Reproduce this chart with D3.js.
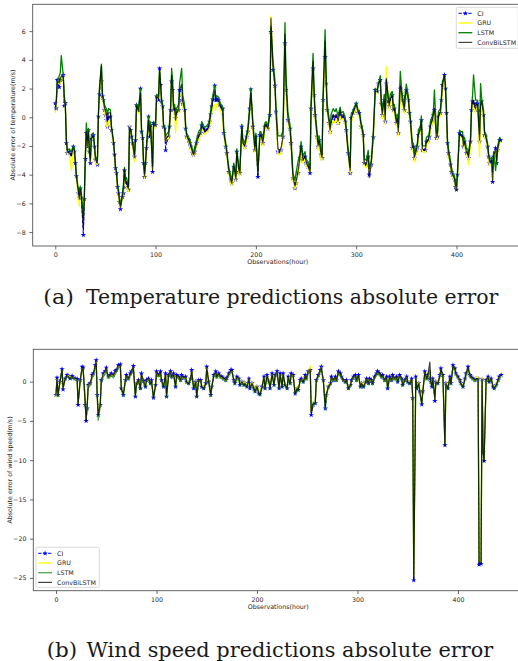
<!DOCTYPE html>
<html>
<head>
<meta charset="utf-8">
<script src="https://cdn.jsdelivr.net/npm/d3@7"></script>
<style>
body { margin: 0; background: #fff; }
svg { display: block; }
</style>
</head>
<body>
<svg id="fig" width="518" height="661"></svg>
<script>
// ---- (a) temperature absolute error ----
var tempHours = [
  0,1,2,3,4,5,6,8,9,10, 11,12,14,16,18,19,20,21,23,24, 25,26,28,29,30,31,32,33,34,35,
  36,38,39,40,42,43,44,46,47,48, 49,50,51,52,53,55,56,58,59,60, 61,62,63,64,65,67,68,69,70,71,
  73,74,75,76,77,79,80,81,83,85, 86,87,88,89,90,91,93,94,95,97, 98,99,100,101,103,104,105,106,107,108,
  109,110,111,113,114,115,116,117,118,119, 120,121,123,124,126,127,129,130,131,133, 134,135,137,138,139,141,143,145,146,148,
  149,151,153,154,155,156,157,159,160,161, 163,164,165,167,168,170,171,173,175,176, 178,180,181,183,184,186,187,189,191,192,
  194,195,197,199,200,202,204,205,207,209, 210,212,214,215,217,219,220,222,224,225, 227,229,230,232,234,235,237,239,240,242,
  244,245,247,249,250,252,254,255,257,258, 259,261,262,263,265,266,267,269,270,271, 273,274,275,277,279,280,282,284,285,287,
  289,290,292,294,295,297,298,300,302,303, 305,307,308,310,312,313,315,317,319,321, 322,324,325,326,328,329,330,332,333,334,
  336,337,338,340,341,342,344,345,346,348, 349,350,352,353,354,356,357,358,360,361, 362,364,365,366,368,369,370,372,373,374,
  376,377,378,380,381,382,384,385,386,388, 389,390,391,392,394,395,396,398,399,400, 401,403,404,406,407,408,410,411,412,414,
  415,416,417,419,420,421,423,424,425,427, 428,429,431,432,433,435,436,437,439,440, 441,443,444
];
var tempCI = [
  0.97,0.62,2.6,2.25,2.1,2.6,2.67,2.95,0.8,1.0, -1.8,-2.5,-2.4,-2.6,-2.05,-2.4,-3.2,-4.1,-5.3,-5.6, -4.95,-5.6,-8.2,-5.7,-2.9,-1.1,-2.05,-0.9,-2.4,-3.2,
  -1.5,-1.25,-2.05,-2.95,-3.3,0.05,1.6,2.5,1.45,1.2, 0.5,0.15,-0.2,-0.65,-0.05,0.05,-0.9,-1.8,-2.6,-3.55, -3.9,-4.85,-5.3,-5.9,-6.4,-5.55,-5.3,-3.7,-4.85,-4.6,
  -5.05,-0.65,-0.9,-1.35,-1.8,-2.75,-1.6,0.85,0.5,2.0, -1.0,-1.45,-3.2,-4.15,-3.2,-2.15,0.05,-1.35,-0.55,-3.8, -0.4,-0.55,-0.55,1.45,1.2,3.4,2.25,1.1,0.75,-0.65,
  -0.8,-2.3,-1.6,-1.35,-0.65,0.5,2.5,1.9,0.5,0.6, -0.05,0.3,0.5,1.9,1.2,0.95,0.5,-0.8,-1.35,-1.6, -1.8,-2.05,-2.5,-2.6,-2.4,-1.8,-1.35,-1.1,-0.55,-0.8,
  -1.0,-0.9,-0.65,-0.3,0.2,0.75,1.25,2.2,1.2,1.3, 1.2,0.85,0.75,0.6,-1.1,-2.05,-2.5,-3.8,-4.35,-4.6, -3.45,-4.35,-2.4,-3.8,-3.9,-0.65,-1.8,-2.05,-1.35,-1.0,
  0.6,1.95,-0.65,-2.3,-1.35,-4.15,-1.25,-1.25,-1.8,-0.65, -0.55,-0.8,0.15,5.95,3.3,2.2,0.4,-2.4,-2.4,-2.3, -1.35,5.15,1.9,-0.2,-0.8,-1.8,-4.25,-4.95,-4.6,-3.9,
  -2.85,-2.05,-3.0,-2.75,-3.2,-3.45,-3.9,0.6,3.4,1.55, 0.15,-1.35,-2.05,-1.6,-2.6,-2.85,1.2,4.2,2.35,0.5, -0.4,-1.0,-0.4,0.05,-0.2,0.05,-0.4,0.3,-0.05,0.05,
  -0.3,-0.9,-2.5,-3.9,-0.05,0.3,0.5,0.95,0.3,0.3, -0.65,-1.25,-3.2,-3.3,-2.75,-4.0,-3.3,-1.4,1.9,1.8, 2.35,2.6,0.95,0.15,1.2,-0.3,2.35,1.1,0.75,1.2,
  1.55,0.5,0.6,-0.4,-0.05,-1.1,2.0,1.65,1.2,0.5, 1.45,1.9,1.2,0.3,-0.3,-2.15,-2.05,-2.85,-2.3,-2.05, -1.25,-0.9,-0.2,-2.3,-2.3,-2.3,-1.7,-1.6,-1.35,-0.65,
  -0.2,0.15,0.5,-1.45,-1.35,0.05,0.3,1.2,2.25,2.95, 2.0,0.3,-1.8,-2.5,-3.3,-3.8,-4.0,-4.35,-4.85,-5.05, -4.0,-1.1,-1.25,-1.35,-2.05,-1.7,-2.5,-2.5,-2.85,-1.7,
  0.5,1.1,0.95,0.5,0.95,0.95,-1.7,0.5,1.1,0.15, -1.25,-1.35,-2.05,-2.75,-3.2,-3.0,-4.5,-2.75,-2.15,-3.2, -2.3,-1.6,-1.6
];
var tempGRU = [
  0.3,0.9,2.3,2.5,2.3,2.5,2.8,2.6,1.2,0.9, -1.5,-2.6,-2.5,-3.7,-2.2,-2.3,-3.0,-4.3,-5.6,-6.2, -5.2,-5.5,-6.5,-5.9,-3.0,-1.2,-2.0,-1.2,-2.5,-3.1,
  -1.6,-1.4,-2.2,-3.2,-3.3,0.0,1.7,3.0,1.3,1.0, 0.4,0.0,-0.6,-0.7,-0.3,-0.1,-1.0,-1.9,-2.7,-3.6, -4.1,-5.0,-5.5,-6.1,-6.3,-5.6,-5.0,-3.9,-4.8,-4.9,
  -5.2,-0.5,-1.0,-1.4,-2.0,-3.1,-1.7,0.6,0.3,1.5, -1.2,-1.6,-3.4,-4.2,-3.4,-2.3,-0.4,-1.2,-0.8,-3.6, -0.5,-0.7,-0.8,1.2,1.4,3.2,2.0,0.9,0.5,-0.9,
  -1.0,-1.7,-1.5,-1.5,-0.8,0.3,2.3,1.6,0.2,0.4, -1.1,0.1,0.4,1.6,1.5,0.8,0.3,-1.0,-1.5,-1.7, -2.0,-2.2,-2.6,-2.7,-2.5,-1.9,-1.5,-1.3,-0.8,-1.0,
  -1.2,-1.0,-0.9,-0.6,-0.2,0.3,0.7,0.9,0.5,0.9, 1.0,0.6,0.5,-0.4,-1.3,-2.2,-2.7,-3.9,-4.6,-4.8, -3.6,-4.5,-2.6,-3.9,-4.1,-1.0,-2.0,-2.2,-1.5,-1.2,
  0.4,1.4,-0.9,-2.4,-1.6,-3.6,-1.5,-1.4,-2.0,-0.8, -0.7,-0.9,0.3,7.05,3.6,2.3,0.3,-2.6,-2.6,-2.4, -1.6,5.0,2.0,-0.4,-1.0,-2.0,-4.4,-5.0,-4.7,-4.0,
  -3.0,-2.3,-3.2,-2.9,-3.3,-3.6,-3.8,0.3,3.0,1.4, -0.1,-1.6,-2.3,-1.8,-2.9,-3.0,0.9,4.0,2.6,0.4, -0.6,-1.2,-0.6,-0.2,-0.4,-0.1,-0.5,0.1,-0.2,-0.1,
  -0.5,-1.1,-2.7,-3.9,-0.4,0.1,0.3,0.7,0.1,0.1, -0.8,-1.5,-3.4,-3.5,-2.9,-3.8,-3.4,-1.6,1.5,2.0, 2.4,2.3,0.7,-0.1,1.0,-0.5,3.5,1.3,0.5,1.0,
  1.3,0.3,0.4,-0.6,-0.3,-1.3,1.6,2.0,0.9,0.3, 1.2,1.7,1.0,0.0,-0.6,-2.4,-2.2,-3.1,-2.5,-2.2, -1.5,-1.1,-0.4,-2.4,-2.4,-2.5,-1.9,-1.8,-1.5,-0.9,
  -0.4,-0.1,0.3,-1.5,-1.5,-0.2,0.1,0.9,2.0,2.7, 1.8,0.1,-2.0,-2.7,-3.4,-3.9,-4.1,-4.5,-4.9,-5.0, -4.2,-1.3,-1.4,-1.5,-2.2,-1.9,-2.6,-2.7,-3.3,-2.0,
  0.3,0.9,0.7,0.3,0.8,0.7,-2.8,0.2,0.8,-0.1, -1.4,-1.5,-2.2,-2.9,-3.4,-3.2,-4.3,-3.0,-2.3,-3.0, -2.5,-1.8,-1.7
];
var tempLSTM = [
  0.5,1.2,2.5,2.6,2.9,3.1,4.3,2.9,1.5,0.9, -1.4,-2.3,-2.2,-2.4,-2.0,-2.2,-3.0,-4.0,-5.0,-5.4, -4.8,-5.3,-7.0,-5.4,-2.5,-0.4,-1.6,-0.8,-2.2,-2.9,
  -1.2,-1.1,-1.8,-2.7,-3.0,0.3,2.0,3.7,1.7,1.3, 0.9,0.7,0.6,0.2,0.6,0.5,-0.6,-1.6,-2.4,-3.4, -3.7,-4.6,-5.0,-5.6,-6.1,-5.3,-4.6,-3.5,-4.4,-4.2,
  -4.8,-0.9,-0.8,-1.2,-1.6,-2.6,-1.4,0.9,0.6,2.0, -0.8,-1.2,-3.0,-3.9,-3.0,-1.9,0.1,-1.0,-0.3,-3.4, -0.3,-0.4,-0.4,1.6,1.5,3.3,2.4,1.3,0.9,-0.5,
  -0.6,-1.3,-1.2,-1.0,-0.3,0.8,3.4,2.6,0.8,0.9, 0.2,0.6,0.9,2.4,3.4,1.6,0.8,-0.5,-1.1,-1.4, -1.5,-1.8,-2.3,-2.4,-2.1,-1.5,-1.0,-0.8,-0.3,-0.6,
  -0.7,-0.6,-0.4,0.0,0.5,1.0,1.5,2.2,1.4,1.5, 1.4,1.1,0.9,0.7,-0.8,-1.8,-2.3,-3.5,-4.1,-4.4, -3.2,-4.1,-2.2,-3.5,-3.7,-0.5,-1.5,-1.8,-1.1,-0.7,
  0.9,2.0,-0.3,-2.0,-1.1,-3.8,-1.0,-1.0,-1.5,-0.4, -0.3,-0.6,0.6,6.3,4.0,2.6,0.8,-1.3,-1.3,-1.3, -1.0,6.6,3.0,0.3,-0.5,-1.4,-3.9,-4.4,-3.9,-3.1,
  -2.5,-1.7,-2.7,-2.4,-2.9,-3.1,-3.6,1.0,4.45,2.0, 0.5,-1.0,-1.7,-1.3,-2.3,-2.6,1.6,6.1,3.2,1.0, -0.1,-0.6,0.2,0.6,0.4,0.6,0.1,0.7,0.3,0.4,
  0.0,-0.6,-2.2,-3.5,0.2,0.5,0.7,1.0,0.5,0.5, -0.4,-1.0,-2.9,-3.0,-2.3,-3.6,-3.0,-1.1,2.0,1.9, 2.2,2.9,1.2,0.5,1.6,0.2,2.6,1.4,1.0,1.6,
  1.8,0.8,0.9,-0.1,0.2,-0.7,3.2,2.2,1.5,0.8, 1.8,2.3,1.5,0.6,0.0,-1.8,-1.8,-2.5,-2.0,-1.8, -0.9,-0.6,0.1,-2.0,-2.0,-2.0,-1.4,-1.3,-1.0,-0.3,
  0.1,0.5,1.9,-1.1,-1.0,0.4,0.6,1.5,2.5,2.9, 2.3,0.6,-1.5,-2.2,-3.0,-3.5,-3.8,-4.1,-4.6,-4.8, -3.7,-0.9,-1.0,-1.0,-1.7,-1.4,-2.2,-2.2,-2.5,-1.4,
  0.8,1.5,2.95,1.2,1.2,1.2,-1.2,2.35,1.4,0.5, -1.0,-1.1,-1.8,-2.5,-2.9,-2.8,-3.8,-2.4,-3.7,-2.9, -2.0,-1.4,-1.5
];
var tempConv = [
  0.7,1.0,2.4,2.5,2.4,2.6,2.9,2.8,1.1,0.9, -1.6,-2.4,-2.5,-2.7,-2.1,-2.3,-3.1,-4.1,-5.2,-5.7, -5.0,-5.6,-7.8,-5.6,-2.8,-1.0,-2.0,-1.0,-2.4,-3.1,
  -1.5,-1.3,-2.0,-2.9,-3.2,0.1,1.8,3.6,1.5,1.1, 0.7,0.4,0.3,-0.2,0.3,0.3,-0.7,-1.7,-2.5,-3.5, -3.9,-4.8,-5.3,-5.9,-6.3,-5.5,-4.9,-3.6,-4.6,-4.5,
  -5.0,-0.7,-0.9,-1.3,-1.8,-2.8,-1.6,0.8,0.4,1.7, -1.0,-1.4,-3.2,-4.1,-3.2,-2.1,-0.2,-1.3,-0.6,-3.7, -0.4,-0.6,-0.6,1.4,1.3,3.3,2.2,1.0,0.7,-0.7,
  -0.8,-1.8,-1.4,-1.3,-0.6,0.5,2.9,2.0,0.5,0.6, -0.2,0.3,0.5,1.9,2.3,1.1,0.5,-0.8,-1.3,-1.6, -1.8,-2.0,-2.5,-2.6,-2.4,-1.8,-1.3,-1.1,-0.6,-0.8,
  -1.0,-0.9,-0.7,-0.3,0.2,0.6,1.1,1.8,1.1,1.2, 1.1,0.8,0.7,0.4,-1.1,-2.0,-2.5,-3.8,-4.4,-4.6, -3.4,-4.3,-2.4,-3.7,-3.9,-0.7,-1.8,-2.0,-1.3,-1.0,
  0.6,1.7,-0.6,-2.3,-1.3,-4.0,-1.3,-1.2,-1.8,-0.6, -0.5,-0.8,0.2,6.9,3.5,2.2,0.4,-2.2,-2.3,-2.2, -1.4,5.8,2.3,-0.2,-0.8,-1.8,-4.2,-4.8,-4.5,-3.8,
  -2.8,-2.0,-3.0,-2.7,-3.1,-3.4,-3.8,0.6,3.9,1.7, 0.1,-1.3,-2.0,-1.6,-2.6,-2.8,1.2,5.3,2.6,0.6, -0.4,-0.9,-0.3,0.2,0.0,0.2,-0.2,0.5,0.1,0.2,
  -0.3,-0.9,-2.5,-3.7,-0.1,0.3,0.5,0.9,0.3,0.3, -0.6,-1.3,-3.2,-3.3,-2.7,-4.2,-3.3,-1.4,1.8,1.8, 2.3,2.6,0.9,0.2,1.2,-0.2,2.7,1.2,0.8,1.3,
  1.5,0.5,0.6,-0.4,-0.1,-1.0,2.2,1.8,1.2,0.5, 1.4,1.9,1.2,0.3,-0.3,-2.1,-2.0,-2.8,-2.3,-2.0, -1.2,-0.9,-0.2,-2.2,-2.3,-2.3,-1.7,-1.6,-1.3,-0.6,
  -0.2,0.2,0.6,-1.4,-1.3,0.1,0.3,1.2,2.2,2.9, 2.0,0.3,-1.8,-2.5,-3.3,-3.8,-4.0,-4.3,-4.8,-5.1, -4.0,-1.1,-1.2,-1.3,-2.0,-1.7,-2.5,-2.5,-2.8,-1.7,
  0.5,1.1,1.2,0.6,0.9,0.9,-1.6,0.9,1.1,0.2, -1.2,-1.3,-2.0,-2.7,-3.1,-3.0,-4.4,-2.7,-2.2,-3.1, -2.3,-1.6,-1.6
];

// ---- (b) wind speed absolute error ----
var windHours = [
  0,1,2,4,6,7,9,11,12,14, 16,17,19,21,22,24,26,27,29,30, 31,32,34,36,37,39,40,41,42,44,
  45,47,49,50,52,54,55,57,59,60, 62,64,65,67,69,70,72,74,75,77, 79,80,82,84,85,87,89,90,92,94,
  95,97,99,100,102,104,105,107,109,110, 112,114,115,117,119,120,122,124,125,127, 129,130,132,134,135,137,139,140,142,144,
  145,147,149,150,152,154,155,157,159,160, 162,164,165,167,169,170,172,174,175,177, 178,180,182,183,185,187,188,190,192,193,
  195,197,198,200,202,203,205,207,208,210, 212,213,215,217,218,220,222,223,225,226, 228,230,231,233,234,236,238,240,241,243,
  244,246,248,249,251,253,254,256,258,259, 261,263,264,266,268,269,271,273,274,276, 278,279,281,283,284,286,288,289,291,293,
  294,296,298,299,301,303,304,306,308,309, 311,312,314,315,317,319,320,322,324,325, 327,329,330,332,334,335,337,339,340,342,
  344,345,347,349,350,352,354,355,356,358, 359,361,362,364,365,367,369,370,372,373, 374,375,377,378,380,382,383,385,387,388,
  390,392,393,395,397,398,400,402,403,405, 407,408,410,412,413,415,417,418,420,421, 423,424,425,426,428,430,431,433,435,436,
  438,440,441,443
];
var windCI = [
  -1.7,0.5,-1.7,0.0,1.6,-1.0,0.4,0.85,0.75,0.4, 0.75,0.5,0.4,0.35,-2.95,0.2,1.9,1.8,-2.95,-5.0, -3.4,-0.4,-0.2,0.85,1.05,2.1,2.75,-1.7,-4.25,-2.95,
  0.2,1.05,1.35,1.8,0.65,0.85,1.05,0.85,1.35,1.5, 2.1,2.2,-0.85,-1.7,0.2,0.85,0.4,1.05,1.3,2.0, -1.9,-0.2,0.2,-0.85,1.05,0.1,-0.65,0.2,0.4,-0.2,
  0.2,-2.05,-0.4,1.3,0.85,1.3,0.2,-0.65,1.05,-1.9, 0.85,1.35,0.65,1.05,-0.65,0.85,0.65,0.2,0.85,0.5, 0.65,0.0,-0.2,0.4,1.5,-0.85,0.0,-1.9,0.2,0.2,
  -0.65,-0.85,-0.2,1.9,0.0,-1.7,-0.65,0.85,1.3,0.65, 1.05,0.65,0.65,0.4,0.2,0.5,1.05,1.5,1.5,0.2, -0.2,0.65,0.4,-0.4,0.0,-0.4,-0.2,-0.65,0.4,-0.85,
  -0.2,-0.85,-1.25,-0.65,-1.5,-1.6,-0.65,0.65,-0.85,0.85, 0.0,-0.85,1.05,-0.4,0.85,1.35,-0.85,1.05,-0.65,1.05, -0.4,-0.85,0.65,-0.2,1.05,0.85,-1.5,-0.85,-1.05,0.2,
  0.4,0.0,0.85,0.4,1.3,1.5,-4.25,-2.95,-2.75,0.2, 0.85,1.5,1.9,0.2,-3.4,-1.7,-0.65,-0.2,0.65,0.2, 0.65,0.2,1.3,1.05,0.65,0.2,0.0,0.2,-0.85,-0.4,
  0.2,0.65,0.85,0.2,0.85,-0.65,-0.2,-0.65,0.0,0.4, -0.2,0.4,0.2,-0.2,0.65,1.05,1.35,1.05,0.65,0.85, 0.2,0.65,-0.85,0.65,0.2,0.85,0.4,0.65,0.0,0.85,
  0.4,-0.4,0.2,0.65,0.0,-0.2,0.4,-2.1,-25.3,0.65, -0.85,-0.2,-1.25,-2.9,-1.25,1.3,0.4,0.85,0.4,0.0, -0.65,0.4,-2.45,0.0,-0.2,0.85,1.7,0.85,-8.1,-0.2,
  -0.85,0.65,-0.2,2.1,1.7,1.05,0.65,0.2,-0.2,-0.65, 0.4,1.05,1.9,0.85,0.65,0.4,0.2,0.4,0.4,-23.3, -23.2,0.3,-9.0,-10.1,0.2,0.65,0.0,0.4,-0.65,-0.85,
  -0.4,0.2,0.65,0.85
];
var windGRU = [
  -2.0,0.3,-1.5,-0.2,1.4,-0.8,0.3,0.7,0.8,0.5, 0.6,0.5,0.3,0.2,-2.7,0.1,1.7,1.6,-2.6,-4.6, -3.2,-0.5,-0.3,0.7,0.9,1.9,2.5,-1.5,-4.0,-2.8,
  0.0,0.9,1.2,1.6,0.5,0.7,0.9,0.7,1.2,1.3, 1.9,2.0,-0.6,-1.4,0.3,0.7,0.3,0.9,1.1,1.8, -1.6,-0.1,0.1,-0.7,0.9,0.0,-0.5,0.1,0.3,-0.1,
  0.1,-1.8,-0.3,1.1,0.7,1.1,0.1,-0.5,0.9,-1.7, 0.7,1.2,0.5,0.9,-0.5,0.7,0.5,0.1,0.7,0.4, 0.5,0.1,-0.1,0.3,1.3,-0.7,0.1,-1.6,0.1,0.1,
  -0.5,-0.7,-0.1,1.7,0.1,-1.5,-0.5,0.7,1.1,0.5, 0.9,0.5,0.5,0.3,0.1,0.4,0.9,1.3,1.3,0.1, -0.1,0.5,0.3,-0.3,0.1,-0.3,-0.1,-0.5,0.3,-0.7,
  -0.1,-0.7,-1.1,-0.5,-1.3,-1.4,-0.5,0.5,-0.7,0.7, 0.1,-0.7,0.9,-0.3,0.7,1.2,-0.7,0.9,-0.5,0.9, -0.3,-0.7,0.5,-0.1,0.9,0.7,-1.3,-0.7,-0.9,0.1,
  0.3,0.1,0.7,0.3,1.2,2.0,-3.8,-3.1,-2.4,0.1, 0.7,1.4,1.8,0.1,-2.4,-2.3,-0.5,-0.1,0.5,0.1, 0.5,0.1,1.1,0.9,0.5,0.1,0.1,0.1,-0.7,-0.3,
  0.1,0.5,0.7,0.1,0.7,-0.5,-0.1,-0.5,0.1,0.3, -0.1,0.3,0.1,-0.1,0.5,0.9,1.2,0.9,0.5,0.7, 0.1,0.5,-0.7,0.5,0.1,0.7,0.3,0.5,0.1,0.7,
  0.3,-0.3,0.1,0.5,0.1,-0.1,0.3,-1.8,-24.8,0.5, -0.7,-0.1,-1.1,-2.6,-1.1,1.1,0.3,0.7,1.2,0.1, -0.5,0.3,-2.2,0.1,-0.1,0.7,1.5,0.7,-7.8,-0.1,
  -0.7,0.5,-0.1,1.9,1.5,0.9,0.5,0.1,-0.1,-0.5, 0.3,0.9,1.7,0.7,0.5,0.3,0.1,0.6,0.5,-22.8, -22.9,0.5,-8.6,-9.8,0.1,0.5,0.1,0.3,-0.5,-0.7,
  -0.3,0.1,0.5,0.7
];
var windLSTM = [
  -1.4,0.2,-1.9,0.2,1.5,-0.6,0.2,0.6,0.6,0.3, 0.5,0.4,0.2,0.1,-2.6,-0.2,1.6,1.5,-2.0,-4.5, -3.0,-0.8,-0.5,0.5,0.8,1.7,2.3,-2.0,-4.9,-3.2,
  -0.3,0.6,1.0,1.4,0.4,0.6,0.8,0.5,1.0,1.2, 1.7,1.9,-1.0,-1.9,0.0,0.6,0.2,0.8,1.0,1.6, -2.0,-0.4,0.0,-1.0,0.7,-0.2,-0.8,0.0,0.2,-0.4,
  0.0,-2.2,-0.6,0.9,0.6,1.0,0.0,-0.8,0.8,-2.0, 0.6,1.0,0.4,0.8,-0.8,0.6,0.4,0.0,0.6,0.3, 0.4,-0.2,-0.4,0.2,1.2,-1.0,-0.2,-2.0,0.0,0.0,
  -0.8,-1.0,-0.4,1.5,-0.2,-1.9,-0.8,0.6,1.0,0.4, 0.8,0.4,0.4,0.2,0.0,0.3,0.8,1.2,1.2,0.0, -0.4,0.4,0.2,-0.6,-0.2,-0.6,-0.4,-0.8,0.2,-1.0,
  -0.4,-1.0,-1.4,-0.8,-1.7,-1.8,-0.8,0.4,-1.0,0.6, -0.2,-1.0,0.8,-0.6,0.6,1.0,-1.0,0.8,-0.8,0.8, -0.6,-1.0,0.4,-0.4,0.8,0.6,-1.7,-1.0,-1.2,0.0,
  0.2,-0.2,0.6,0.2,1.0,1.3,-3.9,-2.6,-2.9,0.0, 0.6,1.2,1.6,0.0,-3.6,-1.9,-0.8,-0.4,0.4,0.0, 0.4,0.0,1.0,0.8,0.4,0.0,-0.2,0.0,-1.0,-0.6,
  0.0,0.4,0.6,0.0,0.6,-0.8,-0.4,-0.8,-0.2,0.2, -0.4,0.2,0.0,-0.4,0.4,0.8,1.1,0.8,0.4,0.6, 0.0,0.4,-1.0,0.4,0.0,0.6,0.2,0.4,-0.2,0.6,
  0.2,-0.6,0.0,0.4,-0.2,-0.4,0.2,-2.3,-25.0,0.4, -1.0,-0.4,-1.4,-3.0,-1.4,1.0,0.2,0.6,1.5,-0.2, -0.8,0.2,-2.0,-0.2,-0.4,0.6,1.4,0.6,-8.0,-0.4,
  -1.0,0.4,-0.4,1.8,1.4,0.8,0.4,0.0,-0.4,-0.8, 0.2,0.8,1.6,0.6,0.4,0.2,0.0,0.3,0.3,-23.0, -23.1,0.2,-8.8,-10.0,0.0,0.4,-0.2,0.2,-0.8,-1.0,
  -0.6,0.0,0.4,0.6
];
var windConv = [
  -1.8,0.4,-1.6,0.0,1.5,-0.9,0.3,0.8,0.7,0.4, 0.7,0.5,0.4,0.3,-2.9,0.2,1.8,1.7,-2.8,-4.9, -3.3,-0.5,-0.2,0.8,1.0,2.0,2.6,-1.6,-4.2,-2.9,
  0.1,1.0,1.3,1.7,0.6,0.8,1.0,0.8,1.3,1.4, 2.0,2.1,-0.8,-1.6,0.2,0.8,0.4,1.0,1.2,1.9, -1.8,-0.2,0.2,-0.8,1.0,0.1,-0.6,0.2,0.4,-0.2,
  0.2,-2.0,-0.4,1.2,0.8,1.2,0.2,-0.6,1.0,-1.8, 0.8,1.3,0.6,1.0,-0.6,0.8,0.6,0.2,0.8,0.5, 0.6,0.0,-0.2,0.4,1.4,-0.8,0.0,-1.8,0.2,0.2,
  -0.6,-0.8,-0.2,1.8,0.0,-1.6,-0.6,0.8,1.2,0.6, 1.0,0.6,0.6,0.4,0.2,0.5,1.0,1.4,1.4,0.2, -0.2,0.6,0.4,-0.4,0.0,-0.4,-0.2,-0.6,0.4,-0.8,
  -0.2,-0.8,-1.2,-0.6,-1.5,-1.6,-0.6,0.6,-0.8,0.8, 0.0,-0.8,1.0,-0.4,0.8,1.3,-0.8,1.0,-0.6,1.0, -0.4,-0.8,0.6,-0.2,1.0,0.8,-1.5,-0.8,-1.0,0.2,
  0.4,0.0,0.8,0.4,1.3,1.6,-4.1,-2.9,-2.7,0.2, 0.8,1.5,1.8,0.2,-3.2,-1.7,-0.6,-0.2,0.6,0.2, 0.6,0.2,1.2,1.0,0.6,0.2,0.0,0.2,-0.8,-0.4,
  0.2,0.6,0.8,0.2,0.8,-0.6,-0.2,-0.6,0.0,0.4, -0.2,0.4,0.2,-0.2,0.6,1.0,1.3,1.0,0.6,0.8, 0.2,0.6,-0.8,0.6,0.2,0.8,0.4,0.6,0.0,0.8,
  0.4,-0.4,0.2,0.6,0.0,-0.2,0.4,-2.0,-25.2,0.6, -0.8,-0.2,-1.2,-2.8,-1.2,1.2,0.4,0.8,2.5,0.0, -0.6,0.4,-2.3,0.0,-0.2,0.8,1.6,0.8,-8.1,-0.2,
  -0.8,0.6,-0.2,2.0,1.6,1.0,0.6,0.2,-0.2,-0.6, 0.4,1.0,1.8,0.8,0.6,0.4,0.2,0.4,0.4,-23.2, -23.2,0.3,-9.0,-10.1,0.2,0.6,0.0,0.4,-0.6,-0.8,
  -0.4,0.2,0.6,0.8
];

var xTicks = [0, 100, 200, 300, 400];
var tempYTicks = [-8, -6, -4, -2, 0, 2, 4, 6];
var windYTicks = [-25, -20, -15, -10, -5, 0];
var seriesNames = ["CI", "GRU", "LSTM", "ConvBiLSTM"];

var svg = d3.select("#fig");
var sans = "'DejaVu Sans', sans-serif";
var fs = 6.3;

function drawPanel(p) {
	var x = d3.scaleLinear().domain(p.xDomain).range([p.left, p.right]);
	var y = d3.scaleLinear().domain(p.yDomain).range([p.bottom, p.top]);
	var g = svg.append("g");

	g.append("clipPath").attr("id", p.id + "-clip")
		.append("rect")
		.attr("x", p.left).attr("y", p.top)
		.attr("width", p.right - p.left).attr("height", p.bottom - p.top);

	var plot = g.append("g").attr("clip-path", "url(#" + p.id + "-clip)");

	// CI, GRU, LSTM, ConvBiLSTM in that order, like the legend
	p.series.forEach(function(s) {
		var n = Math.min(p.hours.length, s.values.length);
		var line = d3.line()
			.x(function(i) { return x(p.hours[i]); })
			.y(function(i) { return y(s.values[i]); });
		plot.append("path")
			.attr("d", line(d3.range(n)))
			.attr("fill", "none")
			.attr("stroke", s.color)
			.attr("stroke-opacity", s.opacity)
			.attr("stroke-width", s.width)
			.attr("stroke-dasharray", s.dash || null)
			.attr("stroke-linejoin", "round");
		if (s.star) {
			plot.selectAll(null)
				.data(d3.range(n))
				.enter()
				.append("path")
				.attr("transform", function(i) { return "translate(" + x(p.hours[i]) + "," + y(s.values[i]) + ")"; })
				.attr("d", d3.symbol(d3.symbolStar, 9))
				.attr("fill", s.color);
		}
	});

	// spines (right one falls outside the picture)
	g.append("rect")
		.attr("x", p.left).attr("y", p.top)
		.attr("width", p.right - p.left).attr("height", p.bottom - p.top)
		.attr("fill", "none").attr("stroke", "#555").attr("stroke-width", 0.9);

	var xAxis = g.append("g")
		.attr("transform", "translate(0," + p.bottom + ")")
		.call(d3.axisBottom(x).tickValues(xTicks).tickSize(3.3).tickPadding(3.3));
	var yAxis = g.append("g")
		.attr("transform", "translate(" + p.left + ",0)")
		.call(d3.axisLeft(y).tickValues(p.yTicks).tickSize(3.3).tickPadding(3.6));
	[xAxis, yAxis].forEach(function(a) {
		a.select(".domain").remove();
		a.attr("font-size", fs).attr("font-family", sans);
		a.selectAll("line").attr("stroke", "#444").attr("stroke-width", 0.8);
		a.selectAll("text").attr("fill", "#262626");
	});

	g.append("text")
		.attr("x", (p.left + p.right) / 2 - 1)
		.attr("y", p.bottom + 18.3)
		.attr("text-anchor", "middle")
		.attr("font-size", fs).attr("font-family", sans).attr("fill", "#262626")
		.text("Observations(hour)");

	g.append("text")
		.attr("transform", "translate(" + p.yLabelX + "," + p.yLabelY + ") rotate(-90)")
		.attr("text-anchor", "middle")
		.attr("dominant-baseline", "central")
		.attr("font-size", fs).attr("font-family", sans).attr("fill", "#262626")
		.text(p.yLabel);

	// legend
	var lg = g.append("g").attr("transform", "translate(" + p.legend.x + "," + p.legend.y + ")");
	lg.append("rect")
		.attr("width", p.legend.w).attr("height", p.legend.h)
		.attr("rx", 1.5)
		.attr("fill", "#fff").attr("fill-opacity", 0.85)
		.attr("stroke", "#d0d0d0").attr("stroke-width", 0.8);
	p.series.forEach(function(s, i) {
		var cy = 6 + i * 9.7;
		lg.append("line")
			.attr("x1", 2.2).attr("x2", 16).attr("y1", cy).attr("y2", cy)
			.attr("stroke", s.color)
			.attr("stroke-opacity", s.opacity)
			.attr("stroke-width", s.width)
			.attr("stroke-dasharray", s.dash || null);
		if (s.star) {
			lg.append("path")
				.attr("transform", "translate(9.1," + cy + ")")
				.attr("d", d3.symbol(d3.symbolStar, 9))
				.attr("fill", s.color);
		}
		lg.append("text")
			.attr("x", 21).attr("y", cy)
			.attr("dy", "0.35em")
			.attr("font-size", fs).attr("font-family", sans).attr("fill", "#262626")
			.text(s.name);
	});
}

function makeSeries(values, lstmOpacity, convOpacity) {
	return [
		{ name: seriesNames[0], values: values[0], color: "#0000ff", opacity: 1, width: 1.0, dash: "3.4,1.5", star: true },
		{ name: seriesNames[1], values: values[1], color: "#ffff00", opacity: 1, width: 1.35 },
		{ name: seriesNames[2], values: values[2], color: "#008000", opacity: lstmOpacity, width: 1.3 },
		{ name: seriesNames[3], values: values[3], color: "#000000", opacity: convOpacity, width: 1.2 }
	];
}

drawPanel({
	id: "temp",
	left: 32.7, right: 525, top: 4.3, bottom: 246,
	xDomain: [-22.5, 468.3], yDomain: [-8.97, 7.87],
	yTicks: tempYTicks,
	hours: tempHours,
	series: makeSeries([tempCI, tempGRU, tempLSTM, tempConv], 1, 0.72),
	yLabel: "Absolute error of temperature(m/s)", yLabelX: 12.3, yLabelY: 125,
	legend: { x: 456.3, y: 7.3, w: 62, h: 41 }
});

drawPanel({
	id: "wind",
	left: 33.3, right: 525.3, top: 349.3, bottom: 590.7,
	xDomain: [-22.6, 467], yDomain: [-26.63, 4.12],
	yTicks: windYTicks,
	hours: windHours,
	series: makeSeries([windCI, windGRU, windLSTM, windConv], 0.7, 0.75),
	yLabel: "Absolute error of wind speed(m/s)", yLabelX: 9.5, yLabelY: 470,
	legend: { x: 36, y: 547.3, w: 63.3, h: 40 }
});

// sub-figure captions
var captions = [
	{ tag: "(a)", text: "Temperature predictions absolute error", tagX: 43.3, x: 86, end: 498.3, y: 304.3 },
	{ tag: "(b)", text: "Wind speed predictions absolute error", tagX: 46.7, x: 86.5, end: 493.3, y: 656.5 }
];
captions.forEach(function(c) {
	svg.append("text")
		.attr("x", c.tagX).attr("y", c.y)
		.attr("font-family", "'DejaVu Serif', serif").attr("font-size", 20)
		.attr("fill", "#1a1a1a")
		.attr("textLength", 30.5).attr("lengthAdjust", "spacingAndGlyphs")
		.text(c.tag);
	svg.append("text")
		.attr("x", c.x).attr("y", c.y)
		.attr("font-family", "'DejaVu Serif', serif").attr("font-size", 20)
		.attr("fill", "#1a1a1a")
		.attr("textLength", c.end - c.x).attr("lengthAdjust", "spacingAndGlyphs")
		.text(c.text);
});
</script>
</body>
</html>
